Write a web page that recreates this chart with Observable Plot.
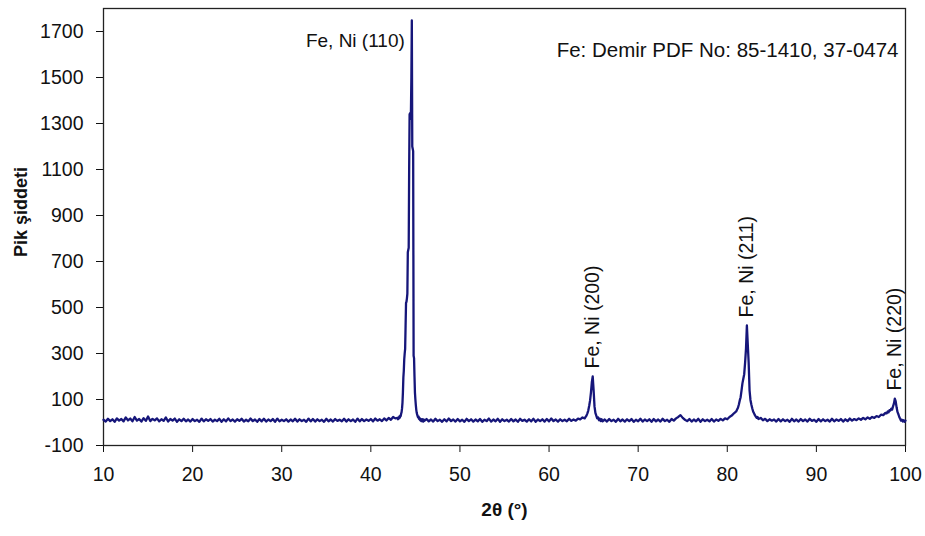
<!DOCTYPE html>
<html>
<head>
<meta charset="utf-8">
<script src="https://cdn.jsdelivr.net/npm/d3@7"></script>
<script src="https://cdn.jsdelivr.net/npm/@observablehq/plot@0.6"></script>
<style>
  html, body { margin: 0; padding: 0; background: #fff; }
  #chart svg { display: block; }
</style>
</head>
<body>
<div id="chart"></div>
<script>
// Scan segments: start angle (2θ, degrees) and step of each segment
const scanStarts = [10, 43, 46.25, 64, 66.25, 81.1, 83.75, 97.9];
const scanSteps  = [0.25, 0.05, 0.25, 0.1, 0.25, 0.1, 0.25, 0.1];

// Intensity (counts), one array per segment
const counts10to43 = [
  12,4,16,6,14,3,18,8,15,5,22,9,
  17,5,24,8,15,4,19,7,26,6,16,9,
  18,5,14,7,22,4,15,8,17,3,14,6,
  16,5,13,4,15,6,12,3,17,5,14,7,
  15,4,12,6,16,3,14,5,18,6,13,4,
  14,7,16,4,12,5,17,6,13,3,15,5,
  16,4,13,6,15,3,17,5,12,6,14,4,
  13,5,16,4,14,6,12,3,17,5,15,4,
  14,6,12,3,16,5,13,4,15,7,12,5,
  16,4,14,6,13,3,17,5,15,6,13,7,
  15,5,17,8,14,6,18,9,20,12,24,18
];
const counts43to46 = [
  20,14,22,18,26,21,30,28,38,45,
  60,85,130,195,225,275,300,320,420,520,
  525,540,560,740,750,760,1100,1340,1345,1320,
  1350,1500,1748,1200,1190,1180,290,280,200,130,
  100,75,55,42,34,28,22,26,16,20,
  12,16,8,14,6,15,5,12,4,13,
  7
];
const counts46to64 = [
  15,5,13,4,16,6,12,3,14,5,17,
  6,13,4,15,5,12,3,16,6,14,4,13,
  5,15,3,12,6,17,4,13,5,16,3,14,
  6,12,4,15,5,13,3,16,7,12,4,14,
  5,16,3,13,6,14,4,15,5,17,6,13,
  4,14,6,12,5,16,7,13,8,17,14,22
];
const counts64to66 = [
  18,24,30,40,52,72,95,130,175,200,140,70,42,30,18,22,10,16,6,14,5
];
const counts66to81 = [
  13,4,15,6,12,3,16,5,13,4,14,
  6,15,3,12,5,16,4,13,6,14,3,15,
  5,13,4,16,6,12,3,15,8,18,24,32,
  20,12,6,15,4,13,5,16,3,14,6,12,
  5,15,4,13,7,16,9,18,14,24,30,40,
  48
];
const counts81to83 = [
  56,64,78,96,110,140,170,190,210,260,320,422,340,260,140,98,78,62,48,40,32,26,20,24,15
];
const counts84to98 = [
  20,10,16,6,14,8,13,4,
  15,5,14,6,12,3,16,5,13,4,15,6,
  13,4,16,7,12,3,15,5,14,6,12,4,
  16,5,13,7,15,4,14,6,17,8,15,10,
  18,12,20,14,22,16,24,20,28,24,34,32,
  42
];
const counts98to100 = [
  40,48,44,54,52,60,56,70,82,104,92,66,46,36,24,16,8,12,4,10,3,8
];

// Peak labels and their 2θ positions / peak heights
const peakLabels  = ["Fe, Ni (110)", "Fe, Ni (200)", "Fe, Ni (211)", "Fe, Ni (220)"];
const peakAngles  = [44.6, 64.9, 82.2, 98.8];
const peakHeights = [1748, 200, 422, 104];
const refNote = "Fe: Demir PDF No: 85-1410, 37-0474";

// Axis ticks and titles
const xTicks = [10, 20, 30, 40, 50, 60, 70, 80, 90, 100];
const yTicks = [-100, 100, 300, 500, 700, 900, 1100, 1300, 1500, 1700];
const xTitle = "2θ (°)";
const yTitle = "Pik şiddeti";

// Build the scan table
const segments = [counts10to43, counts43to46, counts46to64, counts64to66,
                  counts66to81, counts81to83, counts84to98, counts98to100];
const scan = [];
segments.forEach((arr, s) => {
  arr.forEach((c, i) => {
    scan.push({angle: +(scanStarts[s] + i * scanSteps[s]).toFixed(3), counts: c});
  });
});

const labelRows = peakLabels.map((t, i) => ({text: t, angle: peakAngles[i], height: peakHeights[i]}));

const chart = Plot.plot({
  width: 925,
  height: 536,
  marginLeft: 103,
  marginRight: 20,
  marginTop: 8,
  marginBottom: 91,
  style: {fontFamily: "'Liberation Sans', Arial, sans-serif", fontSize: "19.5px", color: "#111", background: "#fff"},
  x: {domain: [10, 100], ticks: xTicks, tickSize: 7, tickPadding: 15, label: null, tickFormat: d => String(d)},
  y: {domain: [-100, 1800], ticks: yTicks, tickSize: 7, tickPadding: 13, label: null, tickFormat: d => String(d)},
  marks: [
    Plot.frame({stroke: "#222", strokeWidth: 1.3}),
    Plot.line(scan, {x: "angle", y: "counts", stroke: "#16167a", strokeWidth: 2.3}),
    // horizontal label for the main peak
    Plot.text(labelRows.slice(0, 1), {x: "angle", frameAnchor: "top", text: "text", textAnchor: "end", dx: -7, dy: 25, fontSize: 19, fill: "#111"}),
    // rotated labels for the other peaks
    Plot.text(labelRows.slice(1), {x: "angle", y: "height", text: "text", rotate: -90, textAnchor: "start", dy: -8, fontSize: 19.5, fill: "#111"}),
    Plot.text([refNote], {frameAnchor: "top-right", text: d => d, textAnchor: "end", dx: -7, dy: 34, fontSize: 20.5, fill: "#111"}),
    Plot.text([xTitle], {frameAnchor: "bottom", text: d => d, textAnchor: "middle", dy: 70, fontSize: 19, fontWeight: "bold", fill: "#111"}),
    Plot.text([yTitle], {frameAnchor: "left", text: d => d, textAnchor: "middle", rotate: -90, dx: -82, dy: -15, fontSize: 18, fontWeight: "bold", fill: "#111"})
  ]
});
document.getElementById("chart").appendChild(chart);
</script>
</body>
</html>
